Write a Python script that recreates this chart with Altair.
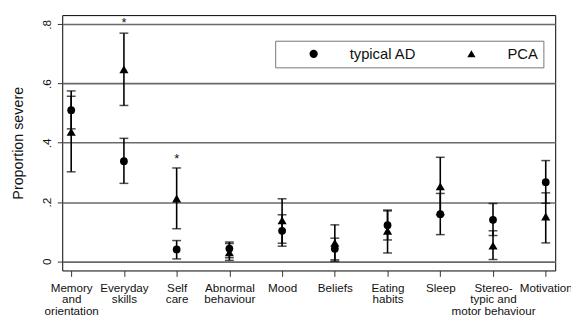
import json
import altair as alt
import pandas as pd

# ---- data ----
categories = [
    "Memory\nand\norientation", "Everyday\nskills", "Self\ncare",
    "Abnormal\nbehaviour", "Mood", "Beliefs", "Eating\nhabits", "Sleep",
    "Stereo-\ntypic and\nmotor behaviour", "Motivation",
]
groups = ["typical AD", "PCA"]

ad_value = [0.510, 0.338, 0.040, 0.043, 0.103, 0.042, 0.122, 0.159, 0.140, 0.267]
ad_low   = [0.447, 0.263, 0.008, 0.012, 0.051, 0.005, 0.072, 0.090, 0.087, 0.196]
ad_high  = [0.575, 0.415, 0.070, 0.065, 0.157, 0.078, 0.173, 0.229, 0.195, 0.340]

pca_value = [0.437, 0.648, 0.212, 0.030, 0.138, 0.062, 0.103, 0.253, 0.053, 0.151]
pca_low   = [0.302, 0.526, 0.110, 0.003, 0.061, 0.000, 0.028, 0.157, 0.006, 0.062]
pca_high  = [0.557, 0.770, 0.315, 0.060, 0.211, 0.123, 0.170, 0.351, 0.103, 0.231]

star_index = [2, 3]
star_value = [0.815, 0.355]

y_ticks = [0, 0.2, 0.4, 0.6, 0.8]
y_tick_labels = ["0", ".2", ".4", ".6", ".8"]

# ---- table ----
rows = []
for g, vals, lo, hi in [("typical AD", ad_value, ad_low, ad_high),
                        ("PCA", pca_value, pca_low, pca_high)]:
    for i, (v, l, h) in enumerate(zip(vals, lo, hi)):
        rows.append({"idx": i + 1, "category": categories[i], "group": g,
                     "value": v, "low": l, "high": h})
df = pd.DataFrame(rows)
stars = pd.DataFrame({"idx": star_index, "value": star_value, "txt": ["*"] * len(star_index)})

FONT = "Liberation Sans"
x_label_expr = json.dumps([c.split("\n") for c in categories]) + "[datum.value - 1]"
y_label_expr = json.dumps(y_tick_labels) + "[indexof(" + json.dumps(y_ticks) + ", datum.value)]"

x_scale = alt.Scale(domain=[0.83, 10.18], nice=False, zero=False)
y_scale = alt.Scale(domain=[-0.031, 0.831], nice=False, zero=False)

x_enc = alt.X("idx:Q", scale=x_scale, title=None,
              axis=alt.Axis(values=list(range(1, len(categories) + 1)),
                            labelExpr=x_label_expr, grid=False, domain=False,
                            labelFlush=False, labelOverlap=False, labelBound=False,
                            tickSize=6, tickColor="#333", tickWidth=1,
                            labelFont=FONT, labelFontSize=11.8, labelColor="#111",
                            labelLineHeight=11.8, labelPadding=6,
                            labelBaseline="top"))
y_axis = alt.Axis(values=y_ticks, labelExpr=y_label_expr, grid=True,
                  gridColor="#6a6a6a", gridWidth=1.6, domain=False,
                  tickSize=5, tickColor="#333", tickWidth=1,
                  labelAngle=-90, labelAlign="center", labelBaseline="alphabetic",
                  labelPadding=6.5, labelFont=FONT, labelFontSize=12, labelColor="#111",
                  title="Proportion severe", titleFont=FONT, titleFontSize=14.5,
                  titleFontWeight="normal", titleColor="#111", titleAngle=-90,
                  titleX=-44, titleY=129.5, titleAlign="center", titleBaseline="middle")

base = alt.Chart(df)

rules = base.mark_rule(color="black", strokeWidth=1.6).encode(
    x=x_enc, y=alt.Y("low:Q", scale=y_scale, axis=y_axis), y2="high:Q")
cap_lo = base.mark_tick(orient="horizontal", color="black", size=9, thickness=1.5).encode(
    x="idx:Q", y="low:Q")
cap_hi = base.mark_tick(orient="horizontal", color="black", size=9, thickness=1.5).encode(
    x="idx:Q", y="high:Q")

points = base.mark_point(filled=True, color="black", opacity=1).encode(
    x="idx:Q", y="value:Q",
    shape=alt.Shape("group:N", sort=groups,
                    scale=alt.Scale(domain=groups, range=["circle", "triangle-up"]),
                    legend=alt.Legend(title=None, orient="none", legendX=216, legendY=26,
                                      direction="horizontal", fillColor="white",
                                      strokeColor="#777", padding=5.5,
                                      symbolOffset=26, labelOffset=29,
                                      columnPadding=22, symbolSize=70,
                                      symbolFillColor="black", symbolStrokeColor="black",
                                      symbolStrokeWidth=0,
                                      labelFont=FONT, labelFontSize=15,
                                      labelColor="#111")),
    size=alt.condition("datum.group == 'PCA'", alt.value(85), alt.value(62)),
)

star_layer = alt.Chart(stars).mark_text(font=FONT, fontSize=13, color="#111",
                                        baseline="alphabetic", dy=7).encode(
    x="idx:Q", y="value:Q", text="txt:N")

chart = alt.layer(rules, cap_lo, cap_hi, points, star_layer).properties(
    width=500, height=259,
    autosize=alt.AutoSizeParams(type="none"),
    padding={"left": 55, "top": 5, "right": 16, "bottom": 46},
    background="white",
).configure_view(stroke="black", strokeWidth=1)

chart.save("out.html", embed_options={"renderer": "svg", "actions": False})
